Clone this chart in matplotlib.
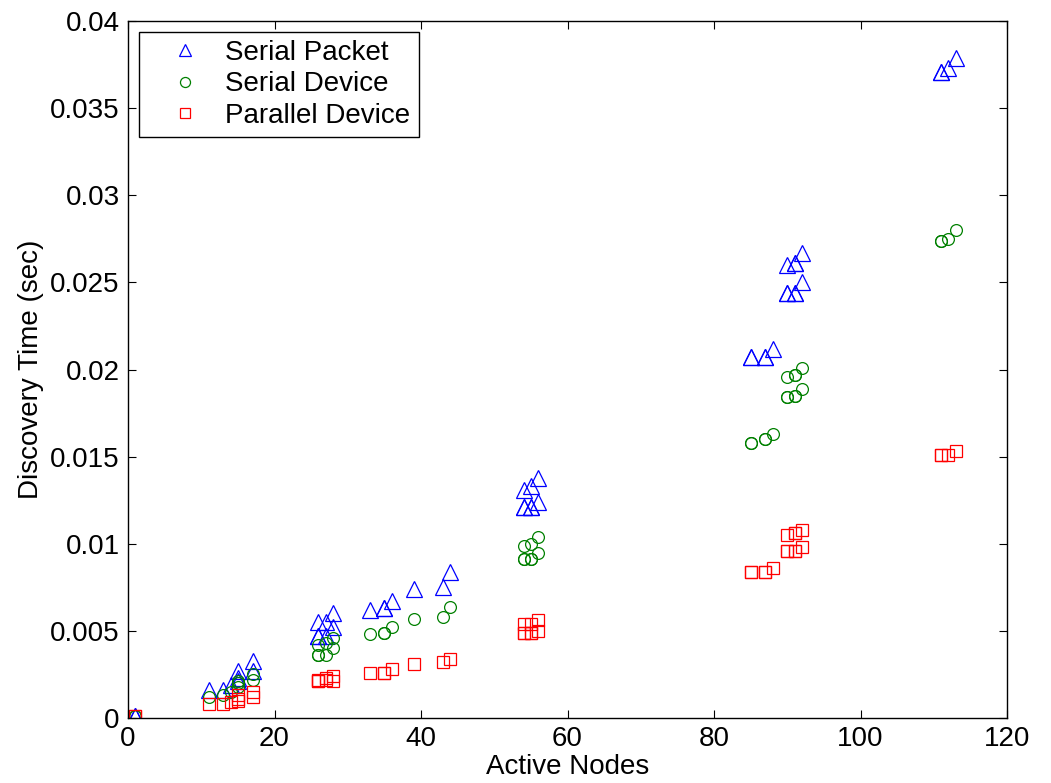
import matplotlib
matplotlib.use('Agg')
import matplotlib.pyplot as plt

plt.rcParams['font.family'] = ['Liberation Sans', 'DejaVu Sans']

# active nodes for each sample (repeats = overlapping runs)
nodes = [1, 1, 11, 13, 14, 15, 15, 15, 17, 17, 26, 26, 26, 27, 27, 28, 28,
         33, 35, 35, 36, 39, 43, 44, 54, 54, 54, 55, 55, 55, 56, 56,
         85, 85, 87, 87, 88, 90, 90, 90, 91, 91, 91, 91, 92, 92,
         111, 111, 112, 113]

serial_packet = [0.0001, 0.0001, 0.0016, 0.0016, 0.0019, 0.0021, 0.0023, 0.0027,
                 0.0027, 0.0033, 0.0047, 0.0047, 0.0055, 0.0047, 0.0055, 0.0052, 0.0060,
                 0.0062, 0.0063, 0.0063, 0.0067, 0.0074, 0.0075, 0.0084,
                 0.0121, 0.0121, 0.0131, 0.0121, 0.0121, 0.0133, 0.0124, 0.0138,
                 0.0207, 0.0207, 0.0207, 0.0207, 0.0212, 0.0244, 0.0244, 0.0260,
                 0.0244, 0.0244, 0.0261, 0.0261, 0.0250, 0.0267,
                 0.0371, 0.0371, 0.0373, 0.0379]

serial_device = [0.0001, 0.0001, 0.0012, 0.0013, 0.0015, 0.0018, 0.0020, 0.0021,
                 0.0022, 0.0025, 0.0036, 0.0036, 0.0042, 0.0036, 0.0043, 0.0040, 0.0046,
                 0.0048, 0.0049, 0.0049, 0.0052, 0.0057, 0.0058, 0.0064,
                 0.0091, 0.0091, 0.0099, 0.0091, 0.0091, 0.0100, 0.0095, 0.0104,
                 0.0158, 0.0158, 0.0160, 0.0160, 0.0163, 0.0184, 0.0184, 0.0196,
                 0.0185, 0.0185, 0.0197, 0.0197, 0.0189, 0.0201,
                 0.0274, 0.0274, 0.0275, 0.0280]

parallel_device = [0.0001, 0.0001, 0.0008, 0.0008, 0.0009, 0.0010, 0.0011, 0.0013,
                   0.0012, 0.0015, 0.0021, 0.0021, 0.0022, 0.0022, 0.0023, 0.0021, 0.0024,
                   0.0026, 0.0026, 0.0026, 0.0028, 0.0031, 0.0032, 0.0034,
                   0.0049, 0.0049, 0.0054, 0.0049, 0.0049, 0.0054, 0.0050, 0.0056,
                   0.0084, 0.0084, 0.0084, 0.0084, 0.0086, 0.0096, 0.0096, 0.0105,
                   0.0096, 0.0096, 0.0106, 0.0106, 0.0098, 0.0108,
                   0.0151, 0.0151, 0.0151, 0.0153]

fig = plt.figure(figsize=(10.51, 7.83), dpi=100)
ax = fig.add_axes([0.1218, 0.083, 0.8364, 0.890])

ax.plot(nodes, serial_packet, '^', color='#0000ff', mfc='none', ms=11, mew=0.9,
        label='Serial Packet')
ax.plot(nodes, serial_device, 'o', color='#008000', mfc='none', ms=8.5, mew=0.9,
        label='Serial Device')
ax.plot(nodes, parallel_device, 's', color='#ff0000', mfc='none', ms=8.5, mew=0.9,
        label='Parallel Device')

ax.set_xlim(0, 120)
ax.set_ylim(0, 0.04)
ax.set_xticks(range(0, 121, 20))
ax.set_yticks([0, 0.005, 0.01, 0.015, 0.02, 0.025, 0.03, 0.035, 0.04])
ax.set_yticklabels(['0', '0.005', '0.01', '0.015', '0.02', '0.025', '0.03', '0.035', '0.04'])
ax.tick_params(direction='in', length=6, width=0.8, labelsize=20, pad=6,
               top=True, right=True)
for s in ax.spines.values():
    s.set_linewidth(1.0)

ax.set_xlabel('Active Nodes', fontsize=20, labelpad=1)
ax.set_ylabel('Discovery Time (sec)', fontsize=20, labelpad=4)

leg = ax.legend(loc='upper left', bbox_to_anchor=(0.0125, 0.985), fontsize=20,
                frameon=True, fancybox=False, edgecolor='black', framealpha=1,
                handlelength=2.7, handletextpad=0.1, borderpad=0.3, labelspacing=0.2,
                borderaxespad=0, markerscale=0.85)
leg.get_frame().set_linewidth(1.0)

fig.savefig('out.png', dpi=100)
